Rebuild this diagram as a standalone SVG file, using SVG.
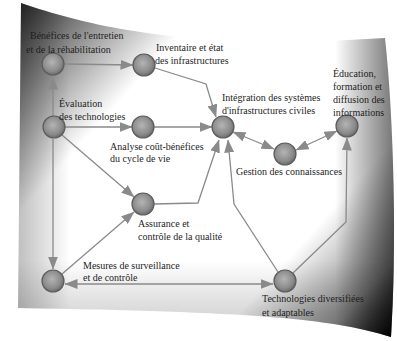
<svg xmlns="http://www.w3.org/2000/svg" width="397" height="341" viewBox="0 0 397 341">
<defs>
<style>
.t{font-family:"Liberation Serif","Times New Roman",serif;font-size:10px;fill:#1e1e1e}
.c{stroke:#8a8a8a;stroke-width:1.3;fill:none;marker-end:url(#ah)}
.d{stroke:#8a8a8a;stroke-width:1.3;fill:none;marker-start:url(#ah);marker-end:url(#ah)}
.n{fill:url(#ball);stroke:#5c5c5c;stroke-width:1.2}
</style>
<linearGradient id="diag" gradientUnits="userSpaceOnUse" x1="20" y1="3" x2="392" y2="337">
<stop offset="0" stop-color="#2a2a2a"/>
<stop offset="0.28" stop-color="#ffffff"/>
<stop offset="0.74" stop-color="#ffffff"/>
<stop offset="0.9" stop-color="#8a8a8a"/>
<stop offset="1" stop-color="#000000"/>
</linearGradient>
<linearGradient id="right" gradientUnits="userSpaceOnUse" x1="335" y1="0" x2="395" y2="0">
<stop offset="0" stop-color="#000" stop-opacity="0"/>
<stop offset="1" stop-color="#000" stop-opacity="0.55"/>
</linearGradient>
<linearGradient id="left" gradientUnits="userSpaceOnUse" x1="18" y1="0" x2="70" y2="0">
<stop offset="0" stop-color="#000" stop-opacity="0.25"/>
<stop offset="1" stop-color="#000" stop-opacity="0"/>
</linearGradient>
<linearGradient id="bottom" gradientUnits="userSpaceOnUse" x1="0" y1="260" x2="0" y2="312">
<stop offset="0" stop-color="#000" stop-opacity="0"/>
<stop offset="1" stop-color="#000" stop-opacity="0.15"/>
</linearGradient>
<radialGradient id="ball" cx="0.45" cy="0.42" r="0.6">
<stop offset="0" stop-color="#b4b4b4"/>
<stop offset="0.7" stop-color="#8a8a8a"/>
<stop offset="1" stop-color="#666"/>
</radialGradient>
<path id="sheet" d="M21,3 C100,30 200,50 385,38 C394,120 397,250 391,337 C330,318 250,312 18,308 Z"/>
<marker id="ah" markerUnits="userSpaceOnUse" viewBox="0 0 13 10" markerWidth="13" markerHeight="10" refX="12.5" refY="5" orient="auto-start-reverse">
<path d="M0,0 L13,5 L0,10 Z" fill="#8a8a8a"/>
</marker>
</defs>
<rect width="397" height="341" fill="#ffffff"/>
<g id="background">
<use href="#sheet" fill="url(#diag)"/>
<use href="#sheet" fill="url(#right)"/>
<use href="#sheet" fill="url(#left)"/>
<use href="#sheet" fill="url(#bottom)"/>
</g>
<g id="connectors">
<line class="c" x1="64" y1="64" x2="133" y2="65"/>
<line class="c" x1="53" y1="116" x2="53" y2="77"/>
<line class="c" x1="65" y1="127" x2="132" y2="127"/>
<line class="c" x1="154" y1="127" x2="212" y2="127"/>
<polyline class="c" points="155,68 206,84 216,117"/>
<line class="c" x1="62" y1="135" x2="134" y2="197"/>
<line class="c" x1="53" y1="139" x2="53" y2="269"/>
<line class="c" x1="62" y1="274" x2="134" y2="212"/>
<polyline class="c" points="154,204 198,203 219,140"/>
<polyline class="c" points="278,272 234,204 228,140"/>
<polyline class="c" points="293,273 346,222 347,138"/>
<line class="d" x1="233" y1="132" x2="274" y2="149"/>
<line class="d" x1="296" y1="150" x2="337" y2="131"/>
<line class="d" x1="65" y1="284" x2="273" y2="284"/>
</g>
<g id="n-benefices">
<circle class="n" cx="53" cy="64" r="11"/>
<text class="t" x="30" y="39">Bénéfices de l'entretien</text>
<text class="t" x="26" y="53">et de la réhabilitation</text>
</g>
<g id="n-inventaire">
<circle class="n" cx="144" cy="65" r="11"/>
<text class="t" x="156" y="51">Inventaire et état</text>
<text class="t" x="155" y="64">des infrastructures</text>
</g>
<g id="n-evaluation">
<circle class="n" cx="54" cy="127" r="11"/>
<text class="t" x="59" y="107">Évaluation</text>
<text class="t" x="59" y="120">des technologies</text>
</g>
<g id="n-analyse">
<circle class="n" cx="143" cy="127" r="11"/>
<text class="t" x="110" y="150">Analyse coût-bénéfices</text>
<text class="t" x="110" y="162">du cycle de vie</text>
</g>
<g id="n-integration">
<circle class="n" cx="223" cy="127" r="11"/>
<text class="t" x="222" y="101">Intégration des systèmes</text>
<text class="t" x="222" y="114">d'infrastructures civiles</text>
</g>
<g id="n-gestion">
<circle class="n" cx="285" cy="154" r="11"/>
<text class="t" x="236" y="175">Gestion des connaissances</text>
</g>
<g id="n-education">
<circle class="n" cx="347" cy="126" r="11"/>
<text class="t" x="333" y="77">Éducation,</text>
<text class="t" x="333" y="90">formation et</text>
<text class="t" x="333" y="103">diffusion des</text>
<text class="t" x="333" y="116">informations</text>
</g>
<g id="n-assurance">
<circle class="n" cx="143" cy="204" r="11"/>
<text class="t" x="138" y="227">Assurance et</text>
<text class="t" x="138" y="240">contrôle de la qualité</text>
</g>
<g id="n-mesures">
<circle class="n" cx="53" cy="281" r="11"/>
<text class="t" x="83" y="269">Mesures de surveillance</text>
<text class="t" x="83" y="281">et de contrôle</text>
</g>
<g id="n-technologies">
<circle class="n" cx="285" cy="281" r="11"/>
<text class="t" x="262" y="302">Technologies diversifiées</text>
<text class="t" x="262" y="316">et adaptables</text>
</g>
</svg>
